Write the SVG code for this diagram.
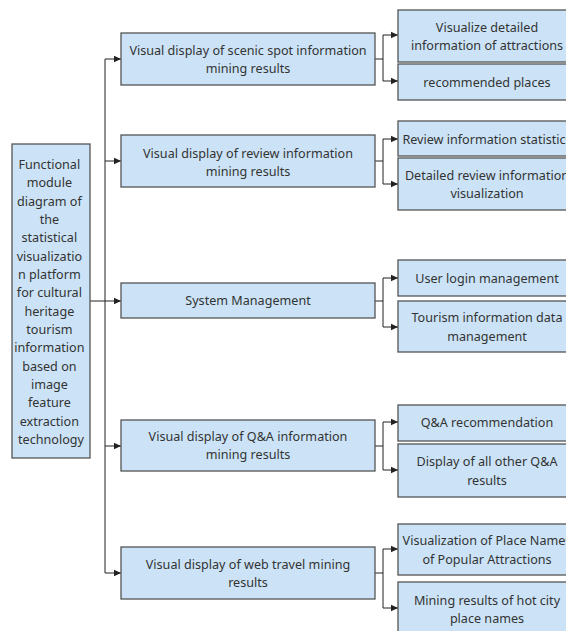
<svg xmlns="http://www.w3.org/2000/svg" width="566" height="631" viewBox="0 0 566 631">
  <defs>
    <marker id="arrow" markerWidth="8" markerHeight="8" refX="7" refY="4" orient="auto" markerUnits="userSpaceOnUse">
      <path d="M0,0.8 L7,4 L0,7.2 Z" fill="#222"/>
    </marker>
    <style>
      .box { fill: #cce3f7; stroke: #555; stroke-width: 1.3; }
      .lbl { font-family: "Noto Sans", "Open Sans", sans-serif; font-size: 12.6px; fill: #333; text-anchor: middle; }
      .wire { fill: none; stroke: #222; stroke-width: 1; }
    </style>
  </defs>
  <rect width="566" height="631" fill="#fff"/>

  <!-- connectors -->
  <g id="connectors">
    <!-- root to trunk -->
    <path class="wire" d="M90,301 H121" marker-end="url(#arrow)"/>
    <path class="wire" d="M105,59 V573"/>
    <path class="wire" d="M105,59 H121" marker-end="url(#arrow)"/>
    <path class="wire" d="M105,161 H121" marker-end="url(#arrow)"/>
    <path class="wire" d="M105,446 H121" marker-end="url(#arrow)"/>
    <path class="wire" d="M105,573 H121" marker-end="url(#arrow)"/>
    <!-- branch 1 -->
    <path class="wire" d="M375,59 H383"/>
    <path class="wire" d="M383,35 V81"/>
    <path class="wire" d="M383,35 H398" marker-end="url(#arrow)"/>
    <path class="wire" d="M383,81 H398" marker-end="url(#arrow)"/>
    <!-- branch 2 -->
    <path class="wire" d="M375,161 H383"/>
    <path class="wire" d="M383,139 V184"/>
    <path class="wire" d="M383,139 H398" marker-end="url(#arrow)"/>
    <path class="wire" d="M383,184 H398" marker-end="url(#arrow)"/>
    <!-- branch 3 -->
    <path class="wire" d="M375,301 H383"/>
    <path class="wire" d="M383,278 V327"/>
    <path class="wire" d="M383,278 H398" marker-end="url(#arrow)"/>
    <path class="wire" d="M383,327 H398" marker-end="url(#arrow)"/>
    <!-- branch 4 -->
    <path class="wire" d="M375,446 H383"/>
    <path class="wire" d="M383,422 V470"/>
    <path class="wire" d="M383,422 H398" marker-end="url(#arrow)"/>
    <path class="wire" d="M383,470 H398" marker-end="url(#arrow)"/>
    <!-- branch 5 -->
    <path class="wire" d="M375,573 H383"/>
    <path class="wire" d="M383,549 V608"/>
    <path class="wire" d="M383,549 H398" marker-end="url(#arrow)"/>
    <path class="wire" d="M383,608 H398" marker-end="url(#arrow)"/>
  </g>

  <!-- root node -->
  <g id="root">
    <rect class="box" x="12" y="144" width="78" height="314"/>
    <text class="lbl" x="51" y="169">
      <tspan x="51" dy="0">Functional</tspan>
      <tspan x="51" dy="18.33">module</tspan>
      <tspan x="51" dy="18.33">diagram of</tspan>
      <tspan x="51" dy="18.33">the</tspan>
      <tspan x="51" dy="18.33">statistical</tspan>
      <tspan x="51" dy="18.33">visualizatio</tspan>
      <tspan x="51" dy="18.33">n platform</tspan>
      <tspan x="51" dy="18.33">for cultural</tspan>
      <tspan x="51" dy="18.33">heritage</tspan>
      <tspan x="51" dy="18.33">tourism</tspan>
      <tspan x="51" dy="18.33">information</tspan>
      <tspan x="51" dy="18.33">based on</tspan>
      <tspan x="51" dy="18.33">image</tspan>
      <tspan x="51" dy="18.33">feature</tspan>
      <tspan x="51" dy="18.33">extraction</tspan>
      <tspan x="51" dy="18.33">technology</tspan>
    </text>
  </g>

  <!-- second level -->
  <g id="scenic">
    <rect class="box" x="121" y="33" width="254" height="52"/>
    <text class="lbl" x="248" y="55">Visual display of scenic spot information</text>
    <text class="lbl" x="248" y="73">mining results</text>
  </g>
  <g id="review">
    <rect class="box" x="121" y="135" width="254" height="52"/>
    <text class="lbl" x="248" y="158">Visual display of review information</text>
    <text class="lbl" x="248" y="176">mining results</text>
  </g>
  <g id="system">
    <rect class="box" x="121" y="283" width="254" height="35"/>
    <text class="lbl" x="248" y="305">System Management</text>
  </g>
  <g id="qa">
    <rect class="box" x="121" y="420" width="254" height="51"/>
    <text class="lbl" x="248" y="441">Visual display of Q&amp;A information</text>
    <text class="lbl" x="248" y="459">mining results</text>
  </g>
  <g id="webtravel">
    <rect class="box" x="121" y="547" width="254" height="52"/>
    <text class="lbl" x="248" y="569">Visual display of web travel mining</text>
    <text class="lbl" x="248" y="587">results</text>
  </g>

  <!-- third level -->
  <g id="attractions">
    <rect class="box" x="398" y="10" width="178" height="52"/>
    <text class="lbl" x="487" y="32">Visualize detailed</text>
    <text class="lbl" x="487" y="50">information of attractions</text>
  </g>
  <g id="places">
    <rect class="box" x="398" y="64" width="178" height="36"/>
    <text class="lbl" x="487" y="87">recommended places</text>
  </g>
  <g id="reviewstats">
    <rect class="box" x="398" y="121" width="178" height="35"/>
    <text class="lbl" x="487" y="144">Review information statistics</text>
  </g>
  <g id="reviewdetail">
    <rect class="box" x="398" y="158" width="178" height="52"/>
    <text class="lbl" x="487" y="180">Detailed review information</text>
    <text class="lbl" x="487" y="198">visualization</text>
  </g>
  <g id="login">
    <rect class="box" x="398" y="260" width="178" height="36"/>
    <text class="lbl" x="487" y="283">User login management</text>
  </g>
  <g id="tourismdata">
    <rect class="box" x="398" y="301" width="178" height="51"/>
    <text class="lbl" x="487" y="322">Tourism information data</text>
    <text class="lbl" x="487" y="341">management</text>
  </g>
  <g id="qarec">
    <rect class="box" x="398" y="405" width="178" height="36"/>
    <text class="lbl" x="487" y="427">Q&amp;A recommendation</text>
  </g>
  <g id="qaother">
    <rect class="box" x="398" y="444" width="178" height="53"/>
    <text class="lbl" x="487" y="466">Display of all other Q&amp;A</text>
    <text class="lbl" x="487" y="485">results</text>
  </g>
  <g id="popular">
    <rect class="box" x="398" y="524" width="178" height="51"/>
    <text class="lbl" x="487" y="545">Visualization of Place Names</text>
    <text class="lbl" x="487" y="564">of Popular Attractions</text>
  </g>
  <g id="hotcity">
    <rect class="box" x="398" y="582" width="178" height="60"/>
    <text class="lbl" x="487" y="605">Mining results of hot city</text>
    <text class="lbl" x="487" y="623">place names</text>
  </g>
</svg>
